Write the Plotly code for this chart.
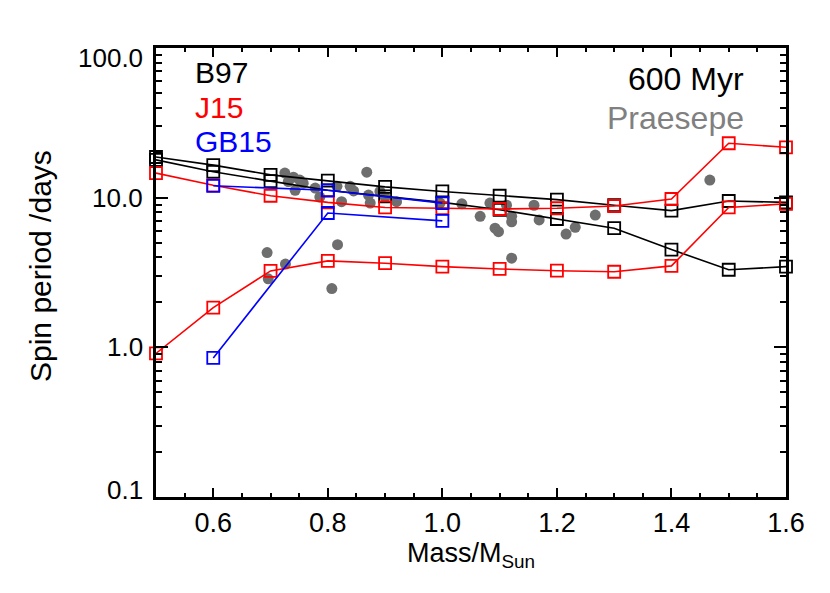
import math
import plotly.graph_objects as go

# ---- data ----
mass_grid = [0.5, 0.6, 0.7, 0.8, 0.9, 1.0, 1.1, 1.2, 1.3, 1.4, 1.5, 1.6]
b97_slow = [18.7, 16.5, 14.2, 13.0, 11.8, 11.0, 10.3, 9.7, 8.9, 8.2, 9.5, 9.3]
b97_fast = [17.9, 14.9, 12.9, 11.2, 10.2, 9.3, 8.3, 7.2, 6.25, 4.5, 3.3, 3.46]
j15_slow = [14.6, 12.1, 10.3, 9.3, 8.6, 8.5, 8.4, 8.5, 8.8, 9.8, 23.1, 21.7]
j15_fast = [0.91, 1.84, 3.24, 3.78, 3.65, 3.46, 3.34, 3.25, 3.2, 3.5, 8.6, 9.1]
gb15_mass = [0.6, 0.8, 1.0]
gb15_slow = [12.0, 11.2, 9.2]
gb15_fast = [0.85, 7.9, 7.0]

praesepe_mass = [0.694, 0.696, 0.726, 0.807, 0.817, 0.725, 0.740, 0.751, 0.731, 0.757,
                 0.743, 0.778, 0.786, 0.816, 0.824, 0.839, 0.845, 0.868, 0.871, 0.874,
                 0.891, 0.900, 0.920, 0.996, 1.034, 1.066, 1.083, 1.112, 1.121, 1.121,
                 1.092, 1.098, 1.121, 1.160, 1.169, 1.216, 1.232, 1.267, 1.467]
praesepe_period = [4.3, 2.87, 3.6, 2.47, 4.85, 14.6, 13.7, 13.1, 12.8, 12.5,
                   11.2, 11.6, 10.1, 11.9, 9.4, 11.9, 11.1, 14.8, 10.4, 9.2,
                   11.0, 10.1, 9.4, 9.2, 9.1, 7.5, 9.2, 8.9, 7.5, 6.9,
                   6.25, 5.93, 3.94, 8.9, 7.1, 5.71, 6.34, 7.65, 13.1]

x_tick_vals = [0.6, 0.8, 1.0, 1.2, 1.4, 1.6]
x_tick_text = ["0.6", "0.8", "1.0", "1.2", "1.4", "1.6"]
y_tick_vals = [100, 10, 1, 0.1]
y_tick_text = ["100.0", "10.0", "1.0", "0.1"]

FONT = "Liberation Sans, Arial, sans-serif"
RED = "#ff0000"
BLUE = "#0000ff"
GRAY = "#6e6e6e"

# page body adds an 8px offset; plot area target: x 156..786, y 48..497
L, T, W, H = 148, 40, 630, 449
R = 830 - L - W
B = 593 - T - H

fig = go.Figure()

fig.add_trace(go.Scatter(x=praesepe_mass, y=praesepe_period, mode="markers",
                         marker=dict(symbol="circle", size=11, color=GRAY),
                         showlegend=False))

def model(x, y, color):
    fig.add_trace(go.Scatter(x=x, y=y, mode="lines+markers",
                             line=dict(color=color, width=1.6),
                             marker=dict(symbol="square-open", size=12,
                                         color=color, line=dict(width=1.8, color=color)),
                             showlegend=False, cliponaxis=False))

model(mass_grid, b97_slow, "black")
model(mass_grid, b97_fast, "black")
model(mass_grid, j15_slow, RED)
model(mass_grid, j15_fast, RED)
model(gb15_mass, gb15_slow, BLUE)
model(gb15_mass, gb15_fast, BLUE)

minor_y = [v * 10 ** e for e in (-1, 0, 1) for v in range(2, 10)]

fig.update_xaxes(range=[0.5, 1.6], showgrid=False, zeroline=False,
                 showline=True, linecolor="black", linewidth=2.5, mirror="ticks",
                 ticks="inside", ticklen=9, tickwidth=2, tickcolor="black",
                 tickvals=x_tick_vals, ticktext=x_tick_text,
                 tickfont=dict(family=FONT, size=27, color="black"),
                 minor=dict(ticks="inside", ticklen=4, tickwidth=2, tickcolor="black",
                            dtick=0.05, tick0=0.5, showgrid=False),
                 title=dict(text="Mass/M<sub>Sun</sub>", standoff=0,
                            font=dict(family=FONT, size=27, color="black")))

fig.update_yaxes(type="log", range=[-1, 2], showgrid=False, zeroline=False,
                 showline=True, linecolor="black", linewidth=2.5, mirror="ticks",
                 ticks="inside", ticklen=12, tickwidth=2, tickcolor="black",
                 tickvals=y_tick_vals, showticklabels=False,
                 minor=dict(ticks="inside", ticklen=6, tickwidth=2, tickcolor="black",
                            tickvals=minor_y, showgrid=False))

def px(xp):
    return (xp - 8 - L) / W

def py(yp):
    return 1 - (yp - 8 - T) / H

annotations = []
yshifts = {100: -10, 10: 0, 1: 0, 0.1: 7}
for v, t in zip(y_tick_vals, y_tick_text):
    annotations.append(dict(x=0, xref="paper", y=math.log10(v), yref="y",
                            text=t, showarrow=False, xanchor="right", yanchor="middle",
                            xshift=-11, yshift=yshifts[v],
                            font=dict(family=FONT, size=26, color="black")))

annotations.append(dict(x=px(40), xref="paper", y=py(266), yref="paper", text="Spin period /days",
                        textangle=-90, showarrow=False, xanchor="center", yanchor="middle",
                        font=dict(family=FONT, size=30, color="black")))

for txt, yy, col in [("B97", 72, "black"), ("J15", 107, RED), ("GB15", 141, BLUE)]:
    annotations.append(dict(x=px(193), y=py(yy), xref="paper", yref="paper", text=txt,
                            showarrow=False, xanchor="left", yanchor="middle",
                            font=dict(family=FONT, size=30, color=col)))
annotations.append(dict(x=px(746), y=py(79), xref="paper", yref="paper", text="600 Myr",
                        showarrow=False, xanchor="right", yanchor="middle",
                        font=dict(family=FONT, size=32, color="black")))
annotations.append(dict(x=px(746), y=py(118), xref="paper", yref="paper", text="Praesepe",
                        showarrow=False, xanchor="right", yanchor="middle",
                        font=dict(family=FONT, size=32, color="#808080")))

fig.update_layout(
    width=830, height=593,
    margin=dict(l=L, r=R, t=T, b=B),
    paper_bgcolor="white", plot_bgcolor="white",
    showlegend=False,
    annotations=annotations,
)

fig.write_html("out.html")
